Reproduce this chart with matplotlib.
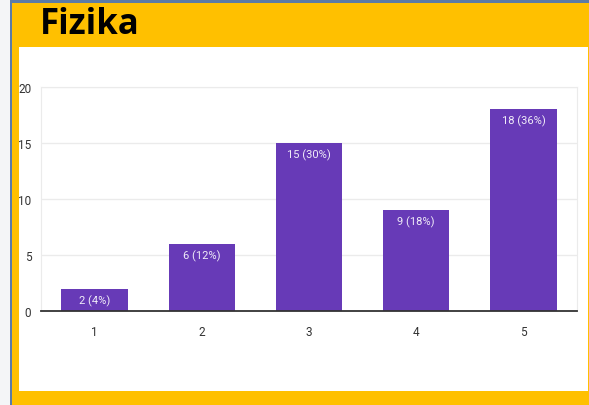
import matplotlib
matplotlib.use("Agg")
import matplotlib.pyplot as plt
from matplotlib.patches import Rectangle

categories = ["1", "2", "3", "4", "5"]
counts = [2, 6, 15, 9, 18]
labels = ["2 (4%)", "6 (12%)", "15 (30%)", "9 (18%)", "18 (36%)"]
yticks = [0, 5, 10, 15, 20]
title = "Fizika"

W, H = 589, 406
fig = plt.figure(figsize=(W / 100, H / 100), dpi=100)
fig.patch.set_facecolor("#f4f5f7")

def px_rect(x0, y0, x1, y1, color, z=0):
    fig.patches.append(Rectangle((x0 / W, 1 - y1 / H), (x1 - x0) / W, (y1 - y0) / H,
                                 transform=fig.transFigure, facecolor=color,
                                 edgecolor="none", zorder=z))

px_rect(10, 1, W, H, "#5b7ba6", 0)
px_rect(12, 4, W, H, "#FFC000", 1)
px_rect(19, 48, 588, 392, "white", 2)

fig.text(40 / W, 1 - 25 / H, title, fontsize=25, fontweight="bold",
         family=["Open Sans", "DejaVu Sans"], color="black", va="center", ha="left",
         zorder=5)

ax = fig.add_axes([41 / W, 1 - 312 / H, (577 - 41) / W, (312 - 88) / H])
ax.set_zorder(10)
ax.set_facecolor("white")
x = list(range(len(categories)))
bars = ax.bar(x, counts, width=0.62, color="#673AB7", zorder=3)
ax.set_xlim(-0.5, len(categories) - 0.5)
ax.set_ylim(0, 20)
ax.set_yticks(yticks)
ax.set_xticks(x)
ax.set_xticklabels(categories)
ax.grid(axis="y", color="#ebebeb", linewidth=1, zorder=0)
for s in ["left", "right", "top"]:
    ax.spines[s].set_color("#ebebeb")
ax.spines["bottom"].set_color("#333333")
ax.spines["bottom"].set_linewidth(1.3)
ax.spines["bottom"].set_zorder(4)
ax.tick_params(length=0, labelsize=8.5, colors="#333333", pad=10)
ax.tick_params(axis="y", pad=7)
for lab in ax.get_xticklabels() + ax.get_yticklabels():
    lab.set_family(["Roboto", "DejaVu Sans"])
for xi, c, t in zip(x, counts, labels):
    ax.annotate(t, (xi, c), xytext=(0, -4), textcoords="offset points",
                ha="center", va="top", color="#f0ecf8", fontsize=8,
                family=["Roboto", "DejaVu Sans"], zorder=5)

fig.savefig("out.png", dpi=100, facecolor=fig.get_facecolor())
